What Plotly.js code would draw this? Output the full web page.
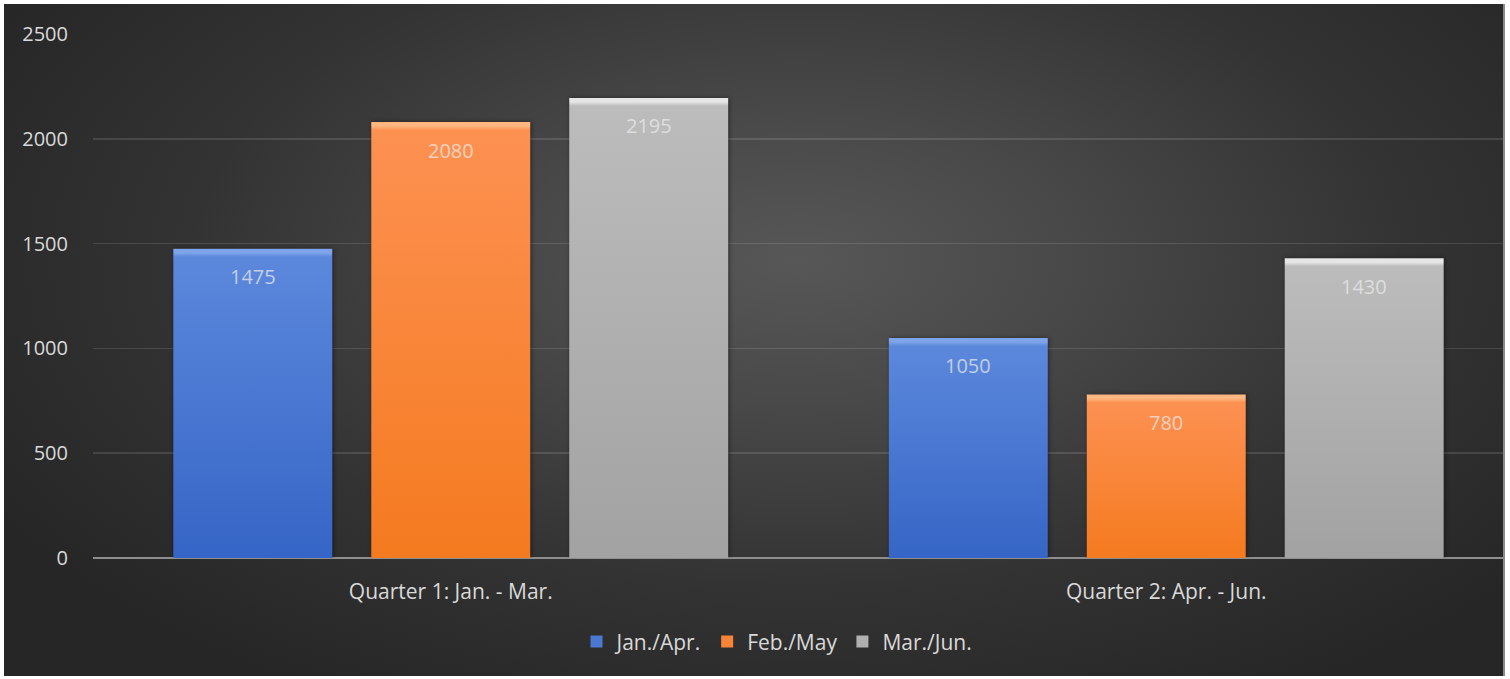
<!DOCTYPE html>
<html>
<head>
<meta charset="utf-8">
<script src="https://cdn.plot.ly/plotly-3.0.1.min.js"></script>
<style>
  html, body { margin: 0; padding: 0; background: #ffffff; width: 1510px; height: 679px; overflow: hidden; }
  #frame {
    position: absolute; left: 4px; top: 4px; width: 1501px; height: 672px; overflow: hidden;
    background: radial-gradient(ellipse 62% 75% at 53% 38%, #575757 0%, #484848 30%, #333333 65%, #262626 100%);
    border-right: 2px solid #8a8a8a; box-sizing: border-box;
  }
  #chart { position: absolute; left: 0; top: 0; width: 1530px; height: 672px; }
</style>
</head>
<body>
<div id="frame"><div id="chart"></div></div>
<script>
// ---- data ----
const categories = ["Quarter 1: Jan. - Mar.", "Quarter 2: Apr. - Jun."];
const seriesNames = ["Jan./Apr.", "Feb./May", "Mar./Jun."];
const janApr = [1475, 1050];
const febMay = [2080, 780];
const marJun = [2195, 1430];
const yTicks = [0, 500, 1000, 1500, 2000, 2500];

// ---- styles ----
const seriesValues = [janApr, febMay, marJun];
const baseColors = ["#4a78d2", "#f8843a", "#b0b0b0"];
const gradStops = [
  ["#7fa4ea", "#5c88dc", "#3565c6"],
  ["#ffb680", "#fd9152", "#f47a1f"],
  ["#e6e6e6", "#bcbcbc", "#a2a2a2"]
];
const FONT = "'Open Sans', 'Noto Sans', sans-serif";
const slotPx = 198;

const traces = seriesValues.map((vals, i) => ({
  type: "bar",
  name: seriesNames[i],
  x: categories,
  y: vals,
  marker: { color: baseColors[i], line: { width: 0 } },
  hoverinfo: "skip"
}));

const annotations = [];
seriesValues.forEach((vals, i) => {
  vals.forEach((v, j) => {
    annotations.push({
      x: categories[j], y: v, xref: "x", yref: "y",
      text: String(v), showarrow: false,
      xshift: (i - 1) * slotPx, yshift: -28,
      font: { family: FONT, size: 20, color: "rgba(236,236,236,0.72)" }
    });
  });
});

const layout = {
  width: 1530, height: 672,
  paper_bgcolor: "rgba(0,0,0,0)",
  plot_bgcolor: "rgba(0,0,0,0)",
  margin: { l: 89, r: 10, t: 30, b: 118 },
  barmode: "group",
  bargap: 0.17,
  bargroupgap: 0.197,
  showlegend: true,
  legend: {
    orientation: "h", x: 0.478, xanchor: "center", y: -0.16, yanchor: "middle",
    font: { family: FONT, size: 21, color: "#d9d9d9" },
    itemwidth: 30, bgcolor: "rgba(0,0,0,0)"
  },
  xaxis: {
    type: "category",
    showgrid: false, showline: false, zeroline: false,
    ticks: "outside", ticklen: 15, tickcolor: "rgba(0,0,0,0)",
    tickfont: { family: FONT, size: 21, color: "#d9d9d9" },
    fixedrange: true
  },
  yaxis: {
    range: [0, 2500],
    tickvals: yTicks,
    showgrid: true, gridcolor: "rgba(255,255,255,0.12)", gridwidth: 1.5,
    zeroline: true, zerolinecolor: "#8e8e8e", zerolinewidth: 2.5,
    showline: false,
    ticks: "outside", ticklen: 20, tickcolor: "rgba(0,0,0,0)",
    tickfont: { family: FONT, size: 20, color: "#d9d9d9" },
    fixedrange: true
  },
  annotations: annotations
};

Plotly.newPlot("chart", traces, layout, { displayModeBar: false, staticPlot: true }).then(gd => {
  try {
    const svg = gd.querySelector("svg.main-svg");
    const ns = "http://www.w3.org/2000/svg";
    let defs = svg.querySelector("defs");
    if (!defs) { defs = document.createElementNS(ns, "defs"); svg.insertBefore(defs, svg.firstChild); }
    const traceGroups = gd.querySelectorAll(".barlayer .trace");
    traceGroups.forEach((tg, i) => {
      const stops = gradStops[i];
      tg.querySelectorAll("path").forEach((p, k) => {
        let h = 100;
        try { h = p.getBBox().height; } catch (e) {}
        const band = Math.min(0.5, 8 / Math.max(h, 1));
        const id = "barGrad" + i + "_" + k;
        const g = document.createElementNS(ns, "linearGradient");
        g.setAttribute("id", id);
        g.setAttribute("x1", "0"); g.setAttribute("y1", "0");
        g.setAttribute("x2", "0"); g.setAttribute("y2", "1");
        [[0, stops[0]], [band * 0.5, stops[0]], [band, stops[1]], [1, stops[2]]].forEach(([o, c]) => {
          const s = document.createElementNS(ns, "stop");
          s.setAttribute("offset", o); s.setAttribute("stop-color", c);
          g.appendChild(s);
        });
        defs.appendChild(g);
        p.style.fill = "url(#" + id + ")";
        p.style.filter = "drop-shadow(1px 0px 2px rgba(0,0,0,0.45))";
      });
    });
  } catch (e) {}
});
</script>
</body>
</html>
